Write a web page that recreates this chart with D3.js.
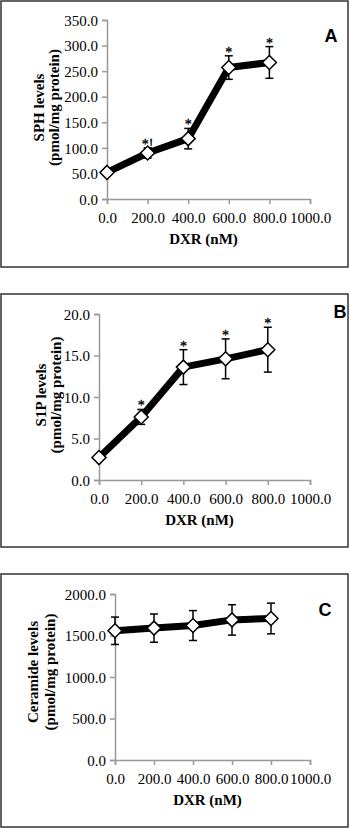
<!DOCTYPE html>
<html>
<head>
<meta charset="utf-8">
<script src="https://cdn.jsdelivr.net/npm/d3@7"></script>
<style>
    body { margin: 0; background: #fff; }
    svg { display: block; }
</style>
</head>
<body>
<svg id="drawing_region"></svg>
<script>
// DXR doses (nM)
const doses = [0, 200, 400, 600, 800];
const xTicks = [0, 200, 400, 600, 800, 1000];

// panel A - SPH
const sphMean = [52, 90, 118, 257, 267];
const sphErr  = [5, 10, 20, 23, 31];
const sphMark = ["", "*!", "*", "*", "*"];
const sphTicks = [0, 50, 100, 150, 200, 250, 300, 350];

// panel B - S1P
const s1pMean = [2.7, 7.6, 13.6, 14.6, 15.7];
const s1pErr  = [0.3, 0.9, 2.1, 2.4, 2.7];
const s1pMark = ["", "*", "*", "*", "*"];
const s1pTicks = [0, 5, 10, 15, 20];

// panel C - Ceramide
const cerMean = [1557, 1589, 1620, 1688, 1705];
const cerErr  = [165, 170, 180, 183, 185];
const cerMark = ["", "", "", "", ""];
const cerTicks = [0, 500, 1000, 1500, 2000];

const svg = d3.select('#drawing_region')
    .attr('width', 350)
    .attr('height', 830);

class LinePanel {

    constructor( config, data ) {
        this.config = config;
        this.data = data;
        this.init();
    }

    init() {
        let self = this;
        const c = self.config;

        self.g = svg.append('g');

        self.g.append('rect')
            .attr('x', c.box[0]).attr('y', c.box[1])
            .attr('width', c.box[2] - c.box[0])
            .attr('height', c.box[3] - c.box[1])
            .attr('fill', '#fff')
            .attr('stroke', '#333')
            .attr('stroke-width', 1.5);

        self.xscale = d3.scaleLinear()
            .domain([0, 1000])
            .range([c.left, c.right]);

        self.yscale = d3.scaleLinear()
            .domain([0, c.ymax])
            .range([c.bottom, c.top]);
    }

    render() {
        let self = this;
        const c = self.config;
        const fmt = d3.format('.1f');
        const serif = '"Liberation Serif", "Times New Roman", serif';

        const xaxis = d3.axisBottom(self.xscale)
            .tickValues(xTicks)
            .tickSize(5)
            .tickPadding(6)
            .tickFormat(fmt);

        const yaxis = d3.axisLeft(self.yscale)
            .tickValues(c.yticks)
            .tickSize(5)
            .tickPadding(4)
            .tickFormat(fmt);

        const xg = self.g.append('g')
            .attr('transform', `translate(0, ${c.bottom})`)
            .call(xaxis);

        const yg = self.g.append('g')
            .attr('transform', `translate(${c.left}, 0)`)
            .call(yaxis);

        [xg, yg].forEach(ax => {
            ax.select('.domain').attr('stroke', '#999').attr('stroke-width', 1.5);
            ax.selectAll('.tick line').attr('stroke', '#999').attr('stroke-width', 1.5);
            ax.selectAll('.tick text')
                .attr('fill', '#000')
                .attr('font-family', serif)
                .attr('font-size', '15px');
        });
        xg.selectAll('.tick text').attr('dy', '0.85em');
        yg.selectAll('.tick text').attr('dy', '0.35em');

        // error bars
        const eb = self.g.append('g')
            .attr('stroke', '#000')
            .attr('stroke-width', 1.5);

        self.data.forEach(d => {
            const x = self.xscale(d.x);
            const y0 = self.yscale(d.y - d.e);
            const y1 = self.yscale(d.y + d.e);
            eb.append('line').attr('x1', x).attr('x2', x).attr('y1', y0).attr('y2', y1);
            eb.append('line').attr('x1', x - 4).attr('x2', x + 4).attr('y1', y0).attr('y2', y0);
            eb.append('line').attr('x1', x - 4).attr('x2', x + 4).attr('y1', y1).attr('y2', y1);
        });

        // thick line
        const line = d3.line()
            .x(d => self.xscale(d.x))
            .y(d => self.yscale(d.y));

        self.g.append('path')
            .datum(self.data)
            .attr('d', line)
            .attr('fill', 'none')
            .attr('stroke', '#000')
            .attr('stroke-width', 7)
            .attr('stroke-linejoin', 'round');

        // diamond markers
        self.g.selectAll('.marker')
            .data(self.data)
            .enter()
            .append('path')
            .attr('class', 'marker')
            .attr('d', 'M0,-7L7,0L0,7L-7,0Z')
            .attr('transform', d => `translate(${self.xscale(d.x)}, ${self.yscale(d.y)})`)
            .attr('fill', '#fff')
            .attr('stroke', '#000')
            .attr('stroke-width', 1.5);

        // significance marks (stroke keeps them plain black)
        self.g.selectAll('.mark')
            .data(self.data.filter(d => d.m))
            .enter()
            .append('text')
            .attr('class', 'mark')
            .attr('x', d => self.xscale(d.x))
            .attr('y', d => self.yscale(d.y + d.e) + 1)
            .attr('text-anchor', 'middle')
            .attr('fill', '#000')
            .attr('stroke', '#000')
            .attr('stroke-width', 0.3)
            .attr('font-family', serif)
            .attr('font-size', '14px')
            .text(d => d.m);

        // x title
        self.g.append('text')
            .attr('x', (c.left + c.right) / 2 - 5)
            .attr('y', c.bottom + 45)
            .attr('text-anchor', 'middle')
            .attr('font-family', serif)
            .attr('font-weight', 'bold')
            .attr('font-size', '15px')
            .text('DXR (nM)');

        // y title, two lines, x given as baseline
        const ymid = (c.top + c.bottom) / 2 + c.ylabelDy;
        c.ylabel.forEach((t, i) => {
            self.g.append('text')
                .attr('transform', `translate(${c.ylabelX[i]}, ${ymid}) rotate(-90)`)
                .attr('text-anchor', 'middle')
                .attr('font-family', serif)
                .attr('font-weight', 'bold')
                .attr('font-size', '15px')
                .text(t);
        });

        // panel letter
        self.g.append('text')
            .attr('x', c.letterPos[0])
            .attr('y', c.letterPos[1])
            .attr('text-anchor', 'middle')
            .attr('dominant-baseline', 'central')
            .attr('font-family', '"Liberation Sans", Arial, sans-serif')
            .attr('font-weight', 'bold')
            .attr('font-size', '18px')
            .text(c.letter);
    }
}

const toRows = (mean, err, mark) => doses.map((x, i) => ({ x: x, y: mean[i], e: err[i], m: mark[i] }));

const panels = [
    {
        config: { box: [1, 1, 348, 267], left: 107, right: 310, top: 20, bottom: 199,
                  ymax: 350, yticks: sphTicks, ylabel: ['SPH levels', '(pmol/mg protein)'],
                  ylabelX: [44, 59], ylabelDy: -2, letter: 'A', letterPos: [331, 36] },
        data: toRows(sphMean, sphErr, sphMark)
    },
    {
        config: { box: [1, 294, 348, 547], left: 99, right: 310, top: 314, bottom: 480,
                  ymax: 20, yticks: s1pTicks, ylabel: ['S1P levels', '(pmol/mg protein)'],
                  ylabelX: [46, 61], ylabelDy: -2, letter: 'B', letterPos: [340, 312] },
        data: toRows(s1pMean, s1pErr, s1pMark)
    },
    {
        config: { box: [1, 574, 348, 827], left: 115, right: 310, top: 594, bottom: 760,
                  ymax: 2000, yticks: cerTicks, ylabel: ['Ceramide levels', '(pmol/mg protein)'],
                  ylabelX: [38, 55], ylabelDy: -5, letter: 'C', letterPos: [325, 610] },
        data: toRows(cerMean, cerErr, cerMark)
    }
];

panels.forEach(p => {
    const panel = new LinePanel(p.config, p.data);
    panel.render();
});
</script>
</body>
</html>
